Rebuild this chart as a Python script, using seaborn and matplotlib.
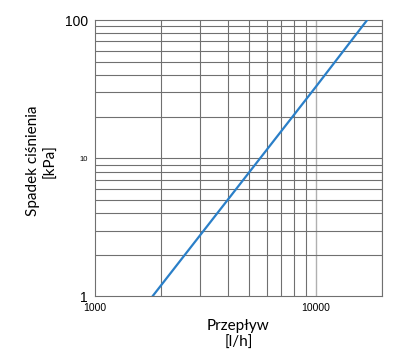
import numpy as np
import matplotlib
matplotlib.use("Agg")
import matplotlib.pyplot as plt
import seaborn as sns
import pandas as pd
from matplotlib.ticker import FixedLocator, NullFormatter

# Flow [l/h] vs pressure drop [kPa]
flow = [1820, 10000, 17130]
dp = [1.0, 32.7, 100.0]
x_ticks = [1000, 10000]
x_labels = ["1000", "10000"]
y_ticks = [1, 10, 100]
y_labels = ["1", "10", "100"]

sns.set_style("white")
plt.rcParams['font.family'] = ['Lato', 'DejaVu Sans']
plt.rcParams['text.color'] = 'black'
plt.rcParams['axes.labelcolor'] = 'black'

df = pd.DataFrame({"Przepływ": flow, "Spadek": dp})

fig = plt.figure(figsize=(4, 3.64), dpi=100)
ax = fig.add_axes([0.2375, 0.1855, 0.7175, 0.7595])

ax.set_xscale("log")
ax.set_yscale("log")
ax.set_xlim(1000, 20000)
ax.set_ylim(1, 100)

xminor = [2000, 3000, 4000, 5000, 6000, 7000, 8000, 9000, 20000]
yminor = [2, 3, 4, 5, 6, 7, 8, 9, 20, 30, 40, 50, 60, 70, 80, 90]
for xv in xminor:
    ax.axvline(xv, color="#707070", lw=0.8, zorder=1)
ax.axvline(10000, color="#b0b0b0", lw=1.0, zorder=1)
for yv in yminor + [10]:
    ax.axhline(yv, color="#707070", lw=0.8, zorder=1)

sns.lineplot(data=df, x="Przepływ", y="Spadek", ax=ax, color="#2a7fc8", lw=1.6, zorder=3)

ax.xaxis.set_major_locator(FixedLocator(x_ticks))
ax.set_xticklabels(x_labels, fontsize=7.5, family=['Liberation Sans', 'DejaVu Sans'])
ax.xaxis.set_minor_formatter(NullFormatter())
ax.yaxis.set_major_locator(FixedLocator(y_ticks))
ax.set_yticklabels(y_labels, family=['Liberation Sans', 'DejaVu Sans'])
for lab, fs in zip(ax.get_yticklabels(), [10, 5.5, 10]):
    lab.set_fontsize(fs)
ax.yaxis.set_minor_formatter(NullFormatter())
ax.tick_params(axis="y", which="both", length=3, width=0.6, color="#707070", pad=2, labelcolor="black")
ax.tick_params(axis="x", which="both", length=0, pad=5, labelcolor="black")

for s in ax.spines.values():
    s.set_color("#707070")
    s.set_linewidth(0.8)

ax.set_xlabel("Przepływ\n[l/h]", fontsize=11, labelpad=4, linespacing=1.3)
ax.set_ylabel("Spadek ciśnienia\n[kPa]", fontsize=11, linespacing=1.3)
ax.yaxis.set_label_coords(-0.13, 0.49)

fig.savefig("out.png", dpi=100)
